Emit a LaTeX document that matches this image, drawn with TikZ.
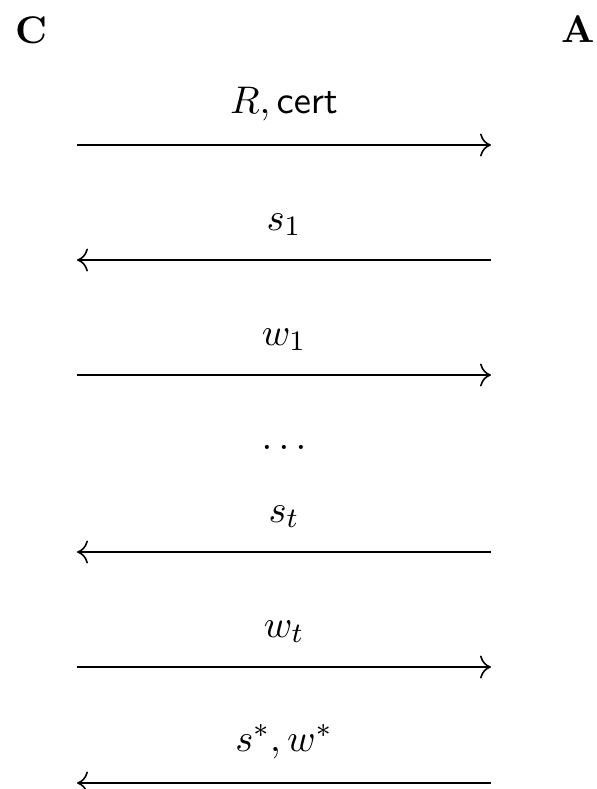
\documentclass[tikz,border=0pt]{standalone}
\usepackage{amsmath}
\usetikzlibrary{arrows.meta}

\begin{document}
\begin{tikzpicture}[
  x=0.1mm, y=-0.1mm,
  every node/.style={font=\fontsize{10.95}{13}\selectfont},
  party/.style={font=\fontsize{10.95}{13}\selectfont\bfseries, inner sep=0pt},
  msg/.style={-{To[length=1.1mm]}, line width=0.45pt},
  lbl/.style={midway, above=3.3pt, inner sep=3.33pt},
]
  \useasboundingbox (0,0) rectangle (597,789);

  \node[party] (C) at (31,30) {C};
  \node[party] (A) at (578,29) {A};

  % message rows, left end l and right end r
  \coordinate (l1) at (77,145);  \coordinate (r1) at (491,145);
  \coordinate (l2) at (77,260);  \coordinate (r2) at (491,260);
  \coordinate (l3) at (77,375);  \coordinate (r3) at (491,375);
  \coordinate (l4) at (77,552);  \coordinate (r4) at (491,552);
  \coordinate (l5) at (77,667);  \coordinate (r5) at (491,667);
  \coordinate (l6) at (77,783);  \coordinate (r6) at (491,783);

  \draw[msg] (l1) -- node[lbl] (m1) {$R, \mathsf{cert}$} (r1);
  \draw[msg] (r2) -- node[lbl] (m2) {$s_1$} (l2);
  \draw[msg] (l3) -- node[lbl] (m3) {$w_1$} (r3);
  \node (dots) at (284,447) {$\ldots$};
  \draw[msg] (r4) -- node[lbl] (m4) {$s_t$} (l4);
  \draw[msg] (l5) -- node[lbl] (m5) {$w_t$} (r5);
  \draw[msg] (r6) -- node[lbl] (m6) {$s^*, w^*$} (l6);
\end{tikzpicture}
\end{document}
